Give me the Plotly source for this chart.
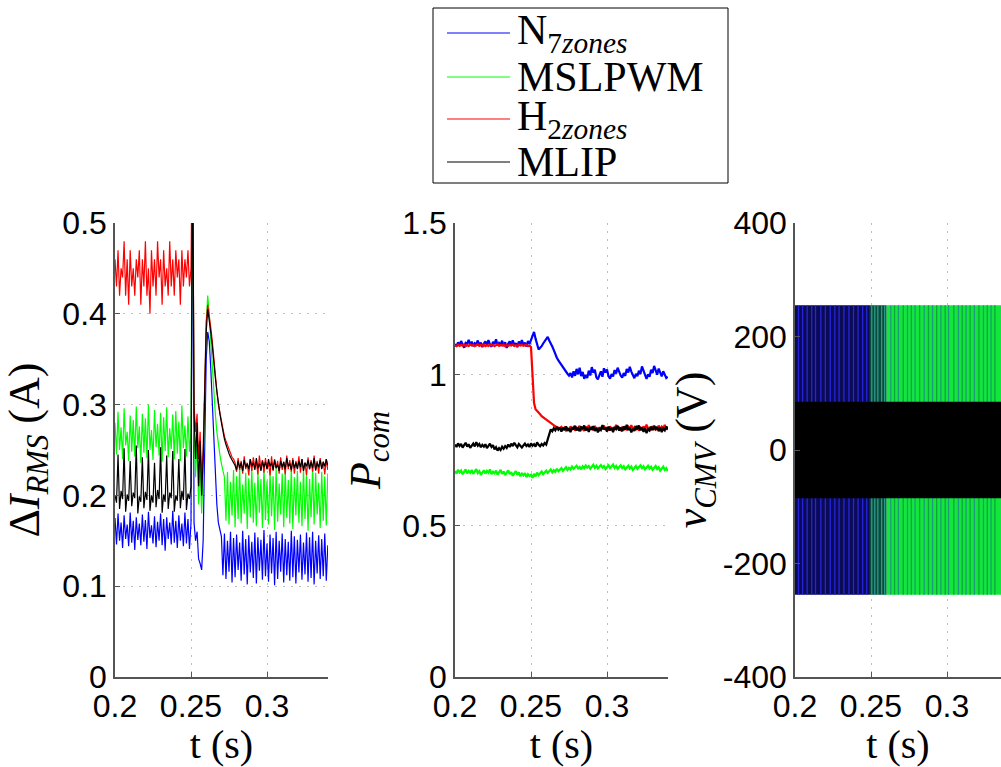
import plotly.graph_objects as go

W, H = 1001, 767

# ---------------- data ----------------
t_ms = [
    200, 201, 202, 203, 204, 205, 206, 207, 208, 209,
    210, 211, 212, 213, 214, 215, 216, 217, 218, 219,
    220, 221, 222, 223, 224, 225, 226, 227, 228, 229,
    230, 231, 232, 233, 234, 235, 236, 237, 238, 239,
    240, 241, 242, 243, 244, 245, 246, 247, 248, 249,
    250, 251, 252, 253, 254, 255, 256, 257, 258, 259,
    260, 261, 262, 263, 264, 265, 266, 267, 268, 269,
    270, 271, 272, 273, 274, 275, 276, 277, 278, 279,
    280, 281, 282, 283, 284, 285, 286, 287, 288, 289,
    290, 291, 292, 293, 294, 295, 296, 297, 298, 299,
    300, 301, 302, 303, 304, 305, 306, 307, 308, 309,
    310, 311, 312, 313, 314, 315, 316, 317, 318, 319,
    320, 321, 322, 323, 324, 325, 326, 327, 328, 329,
    330, 331, 332, 333, 334, 335, 336, 337, 338, 339,
    340,
]

series_names = ["N<sub>7<i>zones</i></sub>", "MSLPWM", "H<sub>2<i>zones</i></sub>", "MLIP"]
series_colors = ["#0000ff", "#00ff00", "#ff0000", "#000000"]

# Panel 1: Delta I_RMS (A)
dI_N7 = [
    .175, .146, .180, .150, .170, .142, .178, .152, .168, .144,
    .181, .148, .172, .140, .176, .151, .169, .145, .179, .149,
    .173, .141, .182, .153, .167, .147, .177, .143, .171, .150,
    .180, .145, .174, .139, .176, .152, .170, .146, .183, .148,
    .172, .142, .178, .150, .169, .144, .181, .147, .174, .141,
    .170, .620, .170, .150, .160, .130, .125, .118, .150, .280,
    .350, .380, .370, .340, .300, .260, .220, .190, .170, .160,
    .155, .112, .158, .108, .150, .116, .160, .104, .153, .110,
    .157, .118, .148, .106, .161, .113, .152, .102, .156, .115,
    .149, .109, .159, .103, .154, .117, .151, .107, .162, .111,
    .147, .105, .157, .114, .153, .101, .160, .108, .150, .116,
    .158, .104, .152, .112, .149, .106, .161, .110, .155, .103,
    .151, .115, .157, .107, .148, .113, .159, .105, .154, .109,
    .160, .102, .150, .114, .156, .108, .152, .111, .158, .106,
    .145,
]
dI_MSLPWM = [
    .280, .245, .292, .250, .275, .240, .296, .255, .270, .238,
    .288, .248, .283, .243, .298, .252, .276, .236, .290, .247,
    .285, .241, .300, .250, .272, .239, .294, .253, .279, .244,
    .291, .237, .286, .249, .297, .242, .274, .251, .289, .240,
    .293, .246, .281, .238, .299, .252, .277, .243, .287, .248,
    .270, .620, .270, .220, .260, .190, .240, .180, .230, .320,
    .390, .420, .400, .370, .340, .310, .290, .270, .255, .245,
    .235, .228, .220, .172, .226, .168, .215, .178, .228, .165,
    .221, .174, .231, .169, .212, .180, .225, .163, .219, .176,
    .229, .170, .214, .166, .227, .181, .218, .164, .232, .173,
    .216, .168, .226, .177, .221, .162, .230, .171, .213, .179,
    .224, .165, .228, .175, .217, .169, .231, .163, .220, .178,
    .227, .170, .215, .166, .229, .174, .222, .161, .218, .176,
    .230, .168, .225, .179, .214, .164, .226, .172, .221, .167,
    .224,
]
dI_H2 = [
    .460, .430, .470, .420, .450, .440, .480, .420, .460, .410,
    .470, .430, .450, .420, .460, .440, .470, .410, .460, .430,
    .480, .420, .450, .400, .470, .430, .460, .420, .480, .440,
    .460, .410, .470, .430, .450, .420, .480, .430, .460, .420,
    .470, .440, .460, .410, .470, .430, .460, .440, .470, .430,
    .450, .620, .300, .270, .290, .240, .270, .220, .250, .330,
    .390, .410, .400, .385, .370, .350, .330, .315, .300, .290,
    .280, .270, .265, .260, .255, .250, .245, .242, .240, .236,
    .226, .241, .228, .238, .224, .243, .229, .236, .222, .240,
    .227, .242, .230, .237, .223, .244, .228, .239, .225, .241,
    .229, .236, .222, .243, .227, .240, .230, .238, .224, .242,
    .228, .237, .223, .244, .229, .239, .226, .241, .224, .238,
    .230, .243, .225, .240, .228, .236, .222, .242, .229, .239,
    .226, .244, .227, .238, .224, .241, .230, .237, .223, .240,
    .228,
]
dI_MLIP = [
    .200, .192, .245, .185, .205, .196, .252, .182, .201, .194,
    .238, .188, .203, .197, .255, .180, .199, .193, .242, .186,
    .204, .195, .250, .183, .200, .192, .236, .187, .206, .196,
    .253, .181, .201, .193, .244, .185, .203, .197, .249, .182,
    .200, .194, .240, .186, .205, .195, .251, .184, .202, .196,
    .210, .620, .290, .240, .280, .210, .260, .200, .240, .310,
    .380, .405, .395, .380, .365, .345, .330, .315, .300, .290,
    .280, .270, .262, .256, .250, .246, .242, .239, .237, .233,
    .228, .238, .230, .236, .227, .239, .231, .235, .229, .240,
    .232, .236, .228, .241, .230, .235, .227, .238, .231, .237,
    .229, .240, .232, .236, .228, .239, .230, .234, .227, .238,
    .231, .237, .229, .241, .232, .235, .228, .239, .230, .236,
    .229, .238, .231, .240, .227, .236, .232, .239, .229, .237,
    .230, .241, .228, .236, .231, .239, .229, .237, .232, .240,
    .233,
]

# Panel 2: P_com
P_N7 = [
    1.100, 1.092, 1.106, 1.095, 1.110, 1.098, 1.088, 1.104, 1.101, 1.114,
    1.097, 1.108, 1.093, 1.103, 1.099, 1.112, 1.094, 1.105, 1.090, 1.102,
    1.109, 1.096, 1.113, 1.099, 1.091, 1.107, 1.100, 1.116, 1.095, 1.104,
    1.098, 1.111, 1.093, 1.106, 1.087, 1.101, 1.109, 1.097, 1.112, 1.095,
    1.103, 1.090, 1.108, 1.099, 1.113, 1.096, 1.105, 1.092, 1.110, 1.100,
    1.115, 1.132, 1.140, 1.118, 1.100, 1.082, 1.088, 1.093, 1.102, 1.110,
    1.120, 1.124, 1.112, 1.104, 1.092, 1.080, 1.066, 1.055, 1.046, 1.038,
    1.030, 1.024, 1.016, 1.008, 1.002, 0.996, 1.004, 0.990, 1.010, 0.995,
    1.018, 1.000, 1.022, 0.994, 1.008, 0.985, 0.998, 0.988, 1.012, 0.996,
    1.024, 1.005, 1.015, 0.990, 0.983, 0.997, 1.010, 0.992, 1.020, 1.006,
    1.016, 0.994, 0.986, 1.001, 0.993, 1.014, 1.003, 1.022, 1.008, 0.996,
    0.989, 1.004, 0.995, 1.018, 1.006, 1.025, 1.009, 0.998, 0.987, 1.002,
    0.994, 1.012, 1.001, 1.026, 1.011, 0.997, 0.985, 1.000, 0.992, 1.015,
    1.004, 1.028, 1.013, 0.999, 1.019, 1.002, 0.993, 1.010, 0.996, 0.988,
    0.992,
]
P_MSLPWM = [
    0.680, 0.672, 0.685, 0.676, 0.682, 0.670, 0.678, 0.686, 0.673, 0.681,
    0.675, 0.684, 0.671, 0.679, 0.687, 0.674, 0.680, 0.668, 0.677, 0.683,
    0.672, 0.681, 0.675, 0.686, 0.670, 0.678, 0.673, 0.682, 0.669, 0.676,
    0.684, 0.671, 0.679, 0.667, 0.675, 0.683, 0.670, 0.677, 0.665, 0.674,
    0.680, 0.668, 0.676, 0.663, 0.672, 0.666, 0.674, 0.660, 0.670, 0.664,
    0.668, 0.658, 0.671, 0.663, 0.675, 0.667, 0.672, 0.679, 0.670, 0.676,
    0.682, 0.674, 0.679, 0.686, 0.676, 0.683, 0.678, 0.688, 0.680, 0.685,
    0.690, 0.681, 0.687, 0.693, 0.684, 0.691, 0.686, 0.695, 0.688, 0.692,
    0.698, 0.689, 0.694, 0.686, 0.696, 0.690, 0.699, 0.692, 0.697, 0.688,
    0.695, 0.701, 0.691, 0.698, 0.689, 0.694, 0.700, 0.692, 0.697, 0.687,
    0.693, 0.699, 0.690, 0.696, 0.702, 0.691, 0.697, 0.688, 0.694, 0.699,
    0.690, 0.696, 0.686, 0.693, 0.698, 0.689, 0.695, 0.684, 0.691, 0.697,
    0.688, 0.694, 0.699, 0.690, 0.696, 0.686, 0.692, 0.698, 0.689, 0.695,
    0.685, 0.691, 0.697, 0.687, 0.693, 0.682, 0.689, 0.695, 0.684, 0.690,
    0.680,
]
P_H2 = [
    1.096, 1.093, 1.098, 1.094, 1.097, 1.095, 1.099, 1.093, 1.096, 1.094,
    1.098, 1.095, 1.097, 1.093, 1.096, 1.099, 1.094, 1.097, 1.095, 1.098,
    1.093, 1.096, 1.094, 1.098, 1.095, 1.097, 1.093, 1.096, 1.099, 1.094,
    1.097, 1.095, 1.098, 1.093, 1.096, 1.094, 1.097, 1.095, 1.098, 1.094,
    1.096, 1.093, 1.098, 1.095, 1.097, 1.094, 1.096, 1.098, 1.093, 1.095,
    1.090, 0.985, 0.905, 0.885, 0.878, 0.872, 0.868, 0.862, 0.858, 0.853,
    0.850, 0.846, 0.842, 0.838, 0.834, 0.831, 0.828, 0.826, 0.824, 0.822,
    0.826, 0.818, 0.824, 0.815, 0.822, 0.817, 0.828, 0.819, 0.825, 0.814,
    0.823, 0.818, 0.830, 0.816, 0.821, 0.813, 0.827, 0.820, 0.832, 0.817,
    0.824, 0.815, 0.829, 0.819, 0.822, 0.812, 0.826, 0.818, 0.831, 0.816,
    0.825, 0.814, 0.828, 0.820, 0.823, 0.817, 0.833, 0.819, 0.826, 0.813,
    0.824, 0.818, 0.829, 0.815, 0.827, 0.821, 0.832, 0.816, 0.825, 0.819,
    0.830, 0.814, 0.823, 0.818, 0.828, 0.820, 0.834, 0.817, 0.826, 0.815,
    0.829, 0.819, 0.824, 0.816, 0.831, 0.818, 0.827, 0.821, 0.833, 0.817,
    0.826,
]
P_MLIP = [
    0.768, 0.760, 0.772, 0.763, 0.770, 0.758, 0.766, 0.774, 0.761, 0.769,
    0.757, 0.765, 0.771, 0.762, 0.776, 0.764, 0.770, 0.759, 0.767, 0.761,
    0.769, 0.756, 0.764, 0.771, 0.760, 0.766, 0.752, 0.759, 0.748, 0.756,
    0.750, 0.761, 0.754, 0.763, 0.757, 0.768, 0.760, 0.771, 0.763, 0.774,
    0.766, 0.759, 0.770, 0.762, 0.758, 0.765, 0.771, 0.763, 0.768, 0.760,
    0.772, 0.764, 0.769, 0.761, 0.775, 0.767, 0.762, 0.770, 0.765, 0.773,
    0.768, 0.785, 0.805, 0.818, 0.812, 0.822, 0.815, 0.826, 0.817, 0.824,
    0.811, 0.823, 0.816, 0.828, 0.813, 0.821, 0.809, 0.825, 0.818, 0.830,
    0.815, 0.822, 0.812, 0.827, 0.819, 0.831, 0.814, 0.824, 0.810, 0.826,
    0.817, 0.829, 0.813, 0.823, 0.808, 0.821, 0.816, 0.832, 0.818, 0.825,
    0.811, 0.827, 0.815, 0.822, 0.809, 0.826, 0.819, 0.830, 0.814, 0.824,
    0.812, 0.828, 0.817, 0.833, 0.816, 0.823, 0.808, 0.820, 0.813, 0.829,
    0.818, 0.831, 0.815, 0.825, 0.810, 0.822, 0.806, 0.819, 0.814, 0.827,
    0.816, 0.830, 0.819, 0.826, 0.812, 0.824, 0.809, 0.821, 0.815, 0.828,
    0.818,
]

# Panel 3: common-mode voltage envelope (V) and switching stripes (s)
cmv_outer = 255
cmv_inner = 85
cmv_segment_edges = [0.2, 0.2493, 0.2603, 0.34]
cmv_segment_colors = ["#0b0b55", "#0b4a3c", "#12e63c"]
cmv_blue_stripes = [0.2023, 0.2050, 0.2080, 0.2110, 0.2135, 0.2170, 0.2200, 0.2232,
                    0.2262, 0.2290, 0.2322, 0.2355, 0.2385, 0.2415, 0.2445, 0.2472]
cmv_mid_stripes = [0.2505, 0.2525, 0.2545, 0.2570, 0.2590]
cmv_teal_stripes = [0.2630, 0.2680, 0.2740, 0.2790, 0.2850, 0.2905, 0.2960,
                    0.3010, 0.3075, 0.3125, 0.3180, 0.3240, 0.3290]
cmv_dark_stripes = [0.2655, 0.2712, 0.2765, 0.2820, 0.2878, 0.2932, 0.2988,
                    0.3045, 0.3100, 0.3152, 0.3210, 0.3265, 0.3315]

x_tick_vals = [0.2, 0.25, 0.3]
x_tick_text = ["0.2", "0.25", "0.3"]
y1_ticks = [0, 0.1, 0.2, 0.3, 0.4, 0.5]
y1_text = ["0", "0.1", "0.2", "0.3", "0.4", "0.5"]
y2_ticks = [0, 0.5, 1, 1.5]
y2_text = ["0", "0.5", "1", "1.5"]
y3_ticks = [-400, -200, 0, 200, 400]
y3_text = ["-400", "-200", "0", "200", "400"]

# ---------------- figure ----------------
t = [v / 1000 for v in t_ms]
fig = go.Figure()

panel1 = [dI_N7, dI_MSLPWM, dI_H2, dI_MLIP]
panel2 = [P_N7, P_MSLPWM, P_H2, P_MLIP]
for vals, name, col in zip(panel1, series_names, series_colors):
    fig.add_trace(go.Scatter(x=t, y=vals, mode="lines", name=name,
                             line=dict(color=col, width=1.2),
                             xaxis="x", yaxis="y", showlegend=False))
for vals, name, col in zip(panel2, series_names, series_colors):
    fig.add_trace(go.Scatter(x=t, y=vals, mode="lines", name=name,
                             line=dict(color=col, width=2.2),
                             xaxis="x2", yaxis="y2", showlegend=False))

# panel 3 bands
for i, col in enumerate(cmv_segment_colors):
    a, b = cmv_segment_edges[i], cmv_segment_edges[i + 1]
    fig.add_trace(go.Scatter(x=[a, b, b, a, a],
                             y=[-cmv_outer, -cmv_outer, cmv_outer, cmv_outer, -cmv_outer],
                             mode="lines", fill="toself", fillcolor=col,
                             line=dict(width=0, color=col),
                             xaxis="x3", yaxis="y3", showlegend=False, hoverinfo="skip"))


def stripes(ts, color, width):
    xs, ys = [], []
    for s in ts:
        xs += [s, s, None]
        ys += [-cmv_outer, cmv_outer, None]
    fig.add_trace(go.Scatter(x=xs, y=ys, mode="lines", line=dict(color=color, width=width),
                             xaxis="x3", yaxis="y3", showlegend=False, hoverinfo="skip"))


stripes(cmv_blue_stripes, "#2626d8", 1.3)
stripes(cmv_mid_stripes, "#2a9a88", 1.3)
stripes(cmv_teal_stripes, "#1f9a7c", 1.3)
stripes(cmv_dark_stripes, "#0ba83a", 1.3)

a, b = cmv_segment_edges[0], cmv_segment_edges[-1]
fig.add_trace(go.Scatter(x=[a, b, b, a, a],
                         y=[-cmv_inner, -cmv_inner, cmv_inner, cmv_inner, -cmv_inner],
                         mode="lines", fill="toself", fillcolor="#000000",
                         line=dict(width=0, color="#000000"),
                         xaxis="x3", yaxis="y3", showlegend=False, hoverinfo="skip"))

# ---------------- axes ----------------
tick_font = dict(family="Liberation Sans, Arial, sans-serif", size=32, color="#000000")
title_font = dict(family="Liberation Serif, Times New Roman, serif", size=40, color="#000000")
ytitle_font = dict(family="Liberation Serif, Times New Roman, serif", size=44, color="#000000")

common = dict(showline=True, linecolor="#555555", linewidth=1.5,
              ticks="inside", ticklen=5, tickcolor="#555555", tickwidth=1,
              showgrid=True, gridcolor="#bdbdbd", gridwidth=1, griddash="2px,6px",
              zeroline=False, tickfont=tick_font, automargin=False)

ydom = [1 - 677 / H, 1 - 223 / H]
xd1 = [115 / W, 328 / W]
xd2 = [455 / W, 668 / W]
xd3 = [795 / W, 1.0]

xt = dict(text="t (s)", font=title_font, standoff=8)

fig.update_layout(
    width=W, height=H,
    margin=dict(l=0, r=0, t=0, b=0),
    paper_bgcolor="white", plot_bgcolor="white",
    showlegend=False,
    xaxis=dict(common, domain=xd1, anchor="y", range=[0.2, 0.2 + 213 / 76 * 0.05],
               tickvals=x_tick_vals, ticktext=x_tick_text, title=xt),
    xaxis2=dict(common, domain=xd2, anchor="y2", range=[0.2, 0.2 + 213 / 76 * 0.05],
                tickvals=x_tick_vals, ticktext=x_tick_text, title=xt),
    xaxis3=dict(common, domain=xd3, anchor="y3", range=[0.2, 0.2 + 206 / 76 * 0.05],
                tickvals=x_tick_vals, ticktext=x_tick_text, title=xt),
    yaxis=dict(common, domain=ydom, anchor="x", range=[0, 0.5],
               tickvals=y1_ticks, ticktext=y1_text,
               title=dict(text="Δ<i>I</i><sub><i>RMS</i></sub> (A)", font=ytitle_font, standoff=14)),
    yaxis2=dict(common, domain=ydom, anchor="x2", range=[0, 1.5],
                tickvals=y2_ticks, ticktext=y2_text,
                title=dict(text="<i>P</i><sub><i>com</i></sub>", font=ytitle_font, standoff=8)),
    yaxis3=dict(common, domain=ydom, anchor="x3", range=[-400, 400],
                tickvals=y3_ticks, ticktext=y3_text,
                title=dict(text="<i>v</i><sub><i>CMV</i></sub> (V)", font=ytitle_font, standoff=2)),
)

# ---------------- legend (box, sample lines, labels) ----------------
leg_rows_px = [33, 77, 119, 162]
shapes = [dict(type="rect", xref="paper", yref="paper",
               x0=433 / W, x1=728 / W, y0=1 - 183 / H, y1=1 - 8 / H,
               line=dict(color="#000000", width=1), fillcolor="white")]
annotations = []
for name, col, ry in zip(series_names, series_colors, leg_rows_px):
    shapes.append(dict(type="line", xref="paper", yref="paper",
                       x0=447 / W, x1=510 / W, y0=1 - ry / H, y1=1 - ry / H,
                       line=dict(color=col, width=1)))
    annotations.append(dict(text=name, xref="paper", yref="paper",
                            x=515 / W, y=1 - ry / H, xanchor="left", yanchor="middle",
                            showarrow=False,
                            font=dict(family="Liberation Serif, Times New Roman, serif",
                                      size=42, color="#000000")))
fig.update_layout(shapes=shapes, annotations=annotations)

fig.write_html(
    "out.html",
    config={"displayModeBar": False},
    post_script="document.body.style.margin='0px';document.body.style.padding='0px';"
                "document.body.style.overflow='hidden';",
)
